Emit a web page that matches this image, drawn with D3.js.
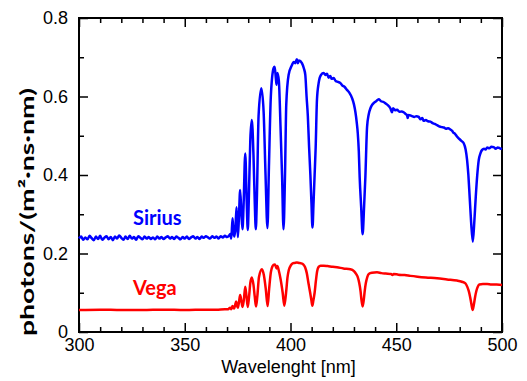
<!DOCTYPE html>
<html>
<head>
<meta charset="utf-8">
<script src="https://cdn.jsdelivr.net/npm/d3@7"></script>
<style>
  html, body { margin: 0; padding: 0; background: #fff; }
  svg { display: block; }
</style>
</head>
<body>
<div id="chart"></div>
<script>
'use strict';

// [wavelength nm, photons/(m2 ns nm)]
var siriusSpectrum = [
  [300, .238], [301, .243], [302, .235], [303, .241], [304, .236], [305, .245], [306, .239],
  [307, .234], [308, .243], [309, .237], [310, .245], [311, .235], [312, .240], [313, .244],
  [314, .236], [315, .242], [316, .234], [317, .243], [318, .238], [319, .246], [320, .240],
  [321, .235], [322, .243], [323, .237], [324, .245], [325, .238], [326, .242], [327, .235],
  [328, .244], [329, .240], [330, .236], [331, .243], [332, .238], [333, .242], [334, .237],
  [335, .241], [336, .236], [337, .243], [338, .238], [339, .242], [340, .237], [341, .241],
  [342, .244], [343, .238], [344, .242], [345, .237], [346, .243], [347, .240], [348, .236],
  [349, .242], [350, .238], [351, .243], [352, .237], [353, .241], [354, .244], [355, .238],
  [356, .242], [357, .237], [358, .243], [359, .240], [360, .244], [361, .241], [362, .238],
  [363, .244], [364, .240], [365, .243], [366, .238], [367, .244], [368, .241], [369, .245],
  [370, .242], [371, .246],
  [371.5, .25], [372.0, .238], [372.6, .29], [373.0, .255], [373.5, .243], [374.0, .27],
  [374.5, .318], [375.1, .242], [375.6, .29], [376.2, .362], [376.8, .30], [377.3, .262],
  [377.8, .32], [378.6, .455], [379.3, .33], [379.8, .26], [380.3, .34], [381.0, .49],
  [381.7, .54], [382.5, .45], [383.1, .33], [383.6, .262], [384.1, .34], [384.9, .55],
  [386.2, .621], [387.3, .56], [388.2, .40], [389.1, .265], [389.8, .42], [390.7, .60],
  [392.0, .672], [392.5, .676], [393.1, .645], [393.4, .63], [393.8, .66], [394.5, .64],
  [395.3, .52], [396.0, .40], [396.7, .262], [397.4, .40], [398.0, .58], [399.1, .655],
  [400.7, .68], [401.5, .688], [402.2, .685], [403.0, .695], [403.5, .685], [404.0, .692],
  [405.4, .685], [406.3, .672], [407.0, .655], [407.6, .60], [408.2, .55], [408.8, .47],
  [409.4, .40], [409.9, .33], [410.4, .266], [410.9, .33], [411.4, .40], [411.9, .47],
  [412.5, .59], [413.3, .634], [414.4, .655], [415.7, .66], [416.5, .655], [417.3, .658],
  [418.0, .648], [418.8, .652], [419.5, .645], [420.4, .647], [421.3, .64], [422.5, .637],
  [423.6, .634], [424.5, .628], [425.5, .625], [426.7, .617], [427.8, .61], [429.1, .596],
  [430.0, .58], [430.7, .56], [431.3, .535], [431.8, .507], [432.3, .46], [432.7, .395],
  [433.4, .32], [434.1, .249], [434.8, .32], [435.4, .395], [436.2, .522], [437.0, .555],
  [437.8, .57], [438.5, .578], [439.3, .583], [440.5, .588], [441.7, .593], [442.8, .588],
  [444.0, .586], [445.0, .582], [446.0, .578], [447.2, .57], [448.0, .56], [448.5, .57],
  [449.5, .565], [450.4, .566], [451.5, .561], [452.5, .562], [453.5, .56], [454.5, .555],
  [455.1, .553], [455.4, .545], [455.8, .553], [456.7, .552], [457.5, .55], [458.5, .548],
  [459.5, .55], [460.6, .548], [461.5, .542], [462.3, .545], [463.0, .538], [464.0, .54],
  [465.0, .537], [466.2, .536], [467.2, .532], [468.2, .53], [469.3, .527], [470.3, .524],
  [471.5, .522], [472.5, .521], [473.5, .518], [474.5, .519], [475.6, .516], [476.5, .512],
  [477.0, .508], [477.8, .505], [478.7, .498], [479.6, .493], [480.8, .487], [481.9, .481],
  [482.8, .465], [483.5, .438], [484.1, .40], [484.7, .345], [485.4, .28], [486.2, .23],
  [486.9, .28], [487.6, .345], [488.3, .40], [489.0, .438], [489.8, .455], [490.6, .464],
  [491.5, .467], [492.2, .465], [493.0, .47], [494.0, .468], [495.0, .472], [496.1, .471],
  [497.0, .467], [498.0, .47], [499.0, .468], [500.0, .466]
];

var vegaSpectrum = [
  [300, .056], [310, .057], [320, .056], [330, .056], [340, .057], [350, .056], [360, .057],
  [365, .057], [369, .058], [370.5, .058], [371.5, .062], [372.0, .058], [372.6, .066],
  [373.0, .062], [373.4, .060], [373.8, .068], [374.3, .078], [374.7, .068], [375.1, .062],
  [375.6, .075], [376.2, .094], [376.8, .078], [377.3, .064], [377.9, .08], [378.6, .115],
  [379.2, .09], [379.8, .064], [380.4, .09], [381.0, .125], [381.7, .139], [382.5, .12],
  [383.1, .09], [383.7, .065], [384.3, .09], [385.1, .14], [386.5, .160], [387.4, .145],
  [388.3, .11], [389.2, .066], [389.9, .11], [390.8, .155], [392.0, .171], [392.6, .172],
  [393.1, .166], [393.4, .162], [393.8, .168], [394.4, .158], [395.3, .135], [396.3, .10],
  [397.1, .067], [397.9, .10], [398.6, .14], [399.2, .158], [400.2, .170], [401.0, .175],
  [402.0, .176], [403.0, .177], [404.0, .176], [405.0, .175], [406.0, .172], [406.9, .165],
  [407.7, .15], [408.5, .124], [409.3, .10], [409.9, .08], [410.3, .067], [410.8, .08],
  [411.4, .10], [412.0, .13], [412.6, .155], [413.3, .166], [414.2, .169], [415.7, .169],
  [417.5, .168], [420.0, .166], [422.0, .165], [425.0, .162], [428.3, .160], [430.0, .155],
  [431.0, .148], [431.8, .14], [432.5, .125], [433.1, .105], [433.6, .08], [434.1, .065],
  [434.6, .08], [435.1, .105], [435.6, .124], [436.3, .14], [437.0, .148], [438.5, .151],
  [440.9, .152], [443.0, .15], [445.0, .149], [447.5, .148], [448.2, .145], [448.8, .148],
  [451.0, .146], [454.0, .145], [456.7, .143], [460.0, .141], [464.0, .139], [469.3, .137],
  [474.0, .134], [478.7, .131], [481.0, .128], [482.7, .124], [483.6, .115], [484.3, .104],
  [484.9, .09], [485.5, .072], [486.1, .056], [486.7, .07], [487.3, .09], [487.9, .105],
  [488.6, .116], [489.3, .121], [491.0, .122], [493.0, .122], [495.0, .121], [497.5, .121],
  [500.0, .120]
];

var xMajorTicks = [300, 350, 400, 450, 500];
var xMinorTicks = [310, 320, 330, 340, 360, 370, 380, 390, 410, 420, 430, 440, 460, 470, 480, 490];
var yMajorTicks = [0, 0.2, 0.4, 0.6, 0.8];
var yMinorTicks = [0.1, 0.3, 0.5, 0.7];

var W = 527, H = 381;
var margin = { top: 18, right: 25, bottom: 49, left: 79 };

var svg = d3.select('#chart').append('svg')
  .attr('width', W)
  .attr('height', H);

var x = d3.scaleLinear().domain([300, 500]).range([margin.left, W - margin.right]);
var y = d3.scaleLinear().domain([0, 0.8]).range([H - margin.bottom, margin.top]);

var tickFont = '"Liberation Sans", Arial, Helvetica, sans-serif';

/**
 * draws one axis with inward ticks, no domain line
 */
function drawAxis(axis, tx, ty) {
  var g = svg.append('g')
    .attr('transform', 'translate(' + tx + ',' + ty + ')')
    .call(axis);
  g.select('.domain').remove();
  g.selectAll('line').attr('stroke', '#000').attr('stroke-width', 1.5);
  g.selectAll('text')
    .attr('fill', '#000')
    .style('font-family', tickFont)
    .style('font-size', '18px');
  return g;
}

var yFmt = function(d) { return d === 0 ? '0' : d3.format('.1f')(d); };
var y0 = H - margin.bottom, x1 = W - margin.right;

// major ticks with labels
drawAxis(d3.axisBottom(x).tickValues(xMajorTicks).tickSize(-9).tickPadding(6).tickFormat(d3.format('d')), 0, y0);
drawAxis(d3.axisLeft(y).tickValues(yMajorTicks).tickSize(-9).tickPadding(11).tickFormat(yFmt), margin.left, 0);
drawAxis(d3.axisTop(x).tickValues(xMajorTicks).tickSize(-9).tickFormat(''), 0, margin.top);
drawAxis(d3.axisRight(y).tickValues(yMajorTicks).tickSize(-9).tickFormat(''), x1, 0);

// minor ticks
drawAxis(d3.axisBottom(x).tickValues(xMinorTicks).tickSize(-5).tickFormat(''), 0, y0);
drawAxis(d3.axisTop(x).tickValues(xMinorTicks).tickSize(-5).tickFormat(''), 0, margin.top);
drawAxis(d3.axisLeft(y).tickValues(yMinorTicks).tickSize(-5).tickFormat(''), margin.left, 0);
drawAxis(d3.axisRight(y).tickValues(yMinorTicks).tickSize(-5).tickFormat(''), x1, 0);

// frame
svg.append('rect')
  .attr('x', margin.left)
  .attr('y', margin.top)
  .attr('width', x1 - margin.left)
  .attr('height', y0 - margin.top)
  .attr('fill', 'none')
  .attr('stroke', '#000')
  .attr('stroke-width', 2);

var line = d3.line()
  .x(function(d) { return x(d[0]); })
  .y(function(d) { return y(d[1]); })
  .curve(d3.curveMonotoneX);

svg.append('path')
  .datum(siriusSpectrum)
  .attr('d', line)
  .attr('fill', 'none')
  .attr('stroke', '#0000ff')
  .attr('stroke-width', 2.5)
  .attr('stroke-linejoin', 'round');

svg.append('path')
  .datum(vegaSpectrum)
  .attr('d', line)
  .attr('fill', 'none')
  .attr('stroke', '#ff0000')
  .attr('stroke-width', 2.5)
  .attr('stroke-linejoin', 'round');

// series labels
var labelFont = 'Lato, "Open Sans", sans-serif';
svg.append('text')
  .attr('x', 133).attr('y', 225)
  .attr('fill', '#0000ff')
  .style('font-family', labelFont)
  .style('font-weight', 'bold')
  .style('font-size', '20px')
  .text('Sirius');

svg.append('text')
  .attr('x', 133).attr('y', 295)
  .attr('fill', '#ff0000')
  .style('font-family', labelFont)
  .style('font-weight', 'bold')
  .style('font-size', '20px')
  .text('Vega');

// axis titles
svg.append('text')
  .attr('x', (margin.left + x1) / 2 - 2)
  .attr('y', 373)
  .attr('text-anchor', 'middle')
  .style('font-family', tickFont)
  .style('font-size', '18px')
  .text('Wavelenght [nm]');

svg.append('text')
  .attr('transform', 'translate(34,212) rotate(-90)')
  .attr('text-anchor', 'middle')
  .attr('textLength', 248)
  .attr('lengthAdjust', 'spacingAndGlyphs')
  .style('font-family', labelFont)
  .style('font-weight', 'bold')
  .style('font-size', '19px')
  .text('photons/(m\u00b2\u00b7ns\u00b7nm)');
</script>
</body>
</html>
